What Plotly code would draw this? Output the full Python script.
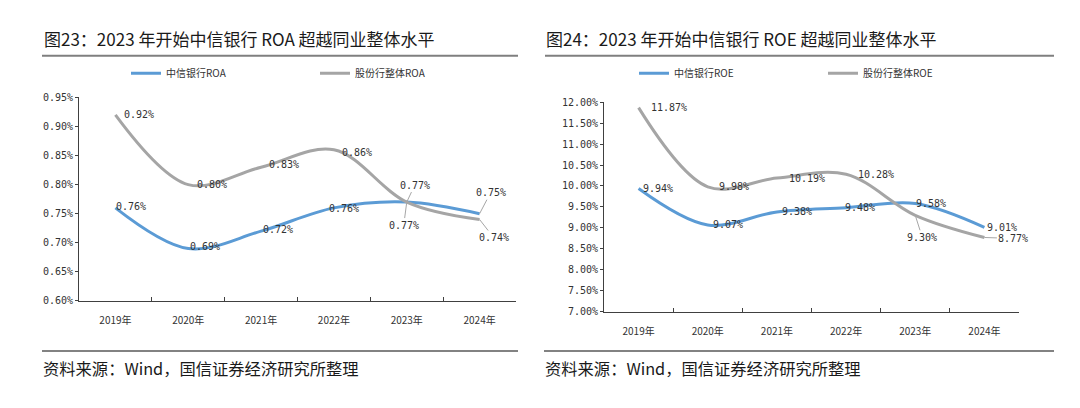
import plotly.graph_objects as go

# ---------------- data ----------------
years = ["2019年", "2020年", "2021年", "2022年", "2023年", "2024年"]
citic_roa = [0.76, 0.69, 0.72, 0.76, 0.77, 0.75]
peer_roa = [0.92, 0.80, 0.83, 0.86, 0.77, 0.74]
citic_roe = [9.94, 9.07, 9.38, 9.48, 9.58, 9.01]
peer_roe = [11.87, 9.98, 10.19, 10.28, 9.30, 8.77]

roa_names = ["中信银行ROA", "股份行整体ROA"]
roe_names = ["中信银行ROE", "股份行整体ROE"]
titles = ["图23：2023 年开始中信银行 ROA 超越同业整体水平",
          "图24：2023 年开始中信银行 ROE 超越同业整体水平"]
source = "资料来源：Wind，国信证券经济研究所整理"

# ---------------- style ----------------
OFF = 8                      # page body margin compensation
W, H = 1080 - 2 * OFF, 408 - 2 * OFF
BLUE = "#5B9BD5"
GRAY = "#A5A5A5"
CJK = "Noto Sans CJK SC"
NUM = "DejaVu Sans Mono"
TXT = "#333333"

# label offsets (pixels, screen: dx right, dy down), leader flag
off_citic_roa = [(16, -1, 0), (17, -2, 0), (17, -2, 0), (10, 1, 0), (8, -17, 1), (11, -21, 1)]
off_peer_roa = [(24, 0, 0), (24, 0, 0), (23, -3, 0), (23, 3, 0), (-3, 23, 1), (14, 18, 1)]
off_citic_roe = [(19, 0, 0), (20, 0, 0), (20, 0, 0), (14, 0, 0), (16, 0, 0), (18, 0, 0)]
off_peer_roe = [(30, 0, 0), (26, 0, 0), (30, 0, 0), (30, 0, 0), (7, 22, 1), (29, 1, 1)]


def px(x):
    return (x - OFF) / W


def py(y):
    return 1 - (y - OFF) / H


fig = go.Figure()

# plot areas in reference pixel coordinates
L = dict(x0=79, x1=516, y0=94, y1=304)
R = dict(x0=604, x1=1019, y0=99, y1=315)

fig.add_trace(go.Scatter(x=years, y=citic_roa, name=roa_names[0], mode="lines",
                         line=dict(color=BLUE, width=3, shape="spline", smoothing=1.0),
                         xaxis="x", yaxis="y", legend="legend", hoverinfo="skip"))
fig.add_trace(go.Scatter(x=years, y=peer_roa, name=roa_names[1], mode="lines",
                         line=dict(color=GRAY, width=3, shape="spline", smoothing=1.0),
                         xaxis="x", yaxis="y", legend="legend2", hoverinfo="skip"))
fig.add_trace(go.Scatter(x=years, y=citic_roe, name=roe_names[0], mode="lines",
                         line=dict(color=BLUE, width=3, shape="spline", smoothing=1.0),
                         xaxis="x2", yaxis="y2", legend="legend3", hoverinfo="skip"))
fig.add_trace(go.Scatter(x=years, y=peer_roe, name=roe_names[1], mode="lines",
                         line=dict(color=GRAY, width=3, shape="spline", smoothing=1.0),
                         xaxis="x2", yaxis="y2", legend="legend4", hoverinfo="skip"))

annotations = []


def add_labels(vals, offs, xa, ya):
    for cat, v, (dx, dy, lead) in zip(years, vals, offs):
        a = dict(x=cat, y=v, xref=xa, yref=ya, text=f"{v:.2f}%",
                 font=dict(family=NUM, size=10, color=TXT))
        if lead:
            a.update(showarrow=True, ax=dx, ay=dy, arrowhead=0, arrowwidth=1,
                     arrowcolor="#A6A6A6", standoff=0, startstandoff=0)
        else:
            a.update(showarrow=False, xshift=dx, yshift=-dy)
        annotations.append(a)


add_labels(citic_roa, off_citic_roa, "x", "y")
add_labels(peer_roa, off_peer_roa, "x", "y")
add_labels(citic_roe, off_citic_roe, "x2", "y2")
add_labels(peer_roe, off_peer_roe, "x2", "y2")

# titles & sources
for i, (tx, lx) in enumerate([(42, 41), (544, 543)]):
    annotations.append(dict(x=px(tx), y=py(33.3), xref="paper", yref="paper",
                            xanchor="left", yanchor="middle", showarrow=False,
                            text=titles[i], font=dict(family=CJK, size=17, color="#1a1a1a")))
    annotations.append(dict(x=px(lx), y=py(373.3), xref="paper", yref="paper",
                            xanchor="left", yanchor="middle", showarrow=False,
                            text=source, font=dict(family=CJK, size=16.3, color="#1a1a1a")))

shapes = [
    dict(type="line", xref="paper", yref="paper", x0=px(42), x1=px(518), y0=py(51), y1=py(51),
         line=dict(color="#7F7F7F", width=2)),
    dict(type="line", xref="paper", yref="paper", x0=px(545), x1=px(1054), y0=py(51), y1=py(51),
         line=dict(color="#7F7F7F", width=2)),
    dict(type="line", xref="paper", yref="paper", x0=px(42), x1=px(518), y0=py(355.7), y1=py(355.7),
         line=dict(color="#595959", width=1.5)),
    dict(type="line", xref="paper", yref="paper", x0=px(544), x1=px(1054), y0=py(355.7), y1=py(355.7),
         line=dict(color="#595959", width=1.5)),
]

xcommon = dict(type="category", range=[-0.5, len(years) - 0.5], showgrid=False, showline=True,
               linecolor="#404040", linewidth=1,
               ticks="inside", tickson="boundaries", ticklen=4, tickcolor="#404040",
               tickfont=dict(family=CJK, size=10, color="#333333"), ticklabelstandoff=10,
               zeroline=False, fixedrange=True)
ycommon = dict(showgrid=False, showline=True, linecolor="#404040", linewidth=1,
               ticks="outside", ticklen=3, tickcolor="#404040",
               tickfont=dict(family=NUM, size=10, color=TXT), tickformat=".2f", ticksuffix="%",
               zeroline=False, fixedrange=True, tickmode="linear")

leg = dict(orientation="h", xanchor="left", yanchor="middle", bgcolor="rgba(0,0,0,0)",
           font=dict(family=CJK, size=10, color="#333333"), y=py(69))

fig.update_layout(
    width=W, height=H, paper_bgcolor="white", plot_bgcolor="white",
    margin=dict(l=0, r=0, t=0, b=0),
    xaxis=dict(domain=[px(L["x0"]), px(L["x1"])], anchor="y", **xcommon),
    yaxis=dict(domain=[py(L["y1"]), py(L["y0"])], anchor="x", range=[0.60, 0.95],
               tick0=0.60, dtick=0.05, **ycommon),
    xaxis2=dict(domain=[px(R["x0"]), px(R["x1"])], anchor="y2", **xcommon),
    yaxis2=dict(domain=[py(R["y1"]), py(R["y0"])], anchor="x2", range=[7, 12],
                tick0=7, dtick=0.5, **ycommon),
    legend=dict(x=px(166 - 40), **leg),
    legend2=dict(x=px(355 - 40), **leg),
    legend3=dict(x=px(674 - 40), **leg),
    legend4=dict(x=px(863 - 40), **leg),
    annotations=annotations,
    shapes=shapes,
    showlegend=True,
)

fig.write_html("out.html")
